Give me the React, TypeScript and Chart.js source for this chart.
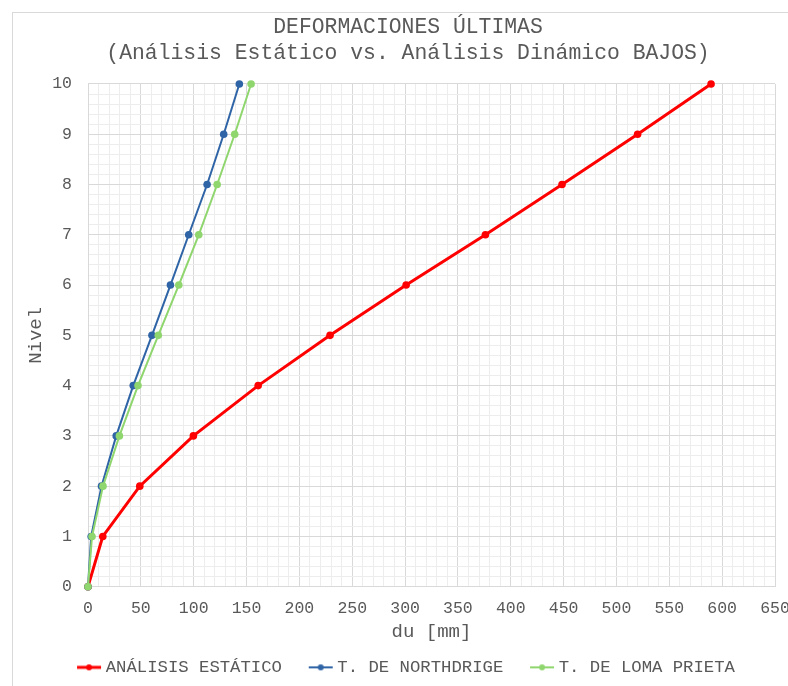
import React, { useEffect, useRef } from "react";
import { Chart, registerables } from "chart.js";

Chart.register(...registerables);

const niveles = [0, 1, 2, 3, 4, 5, 6, 7, 8, 9, 10];
const estatico = [0, 14, 49, 99.7, 161, 229, 301, 376, 448.5, 520, 589.5];
const northridge = [0, 3, 12.8, 26.7, 42.8, 60.5, 78, 95.3, 112.7, 128.4, 143.2];
const lomaPrieta = [0, 3.8, 14.2, 29.7, 47.3, 66.5, 85.9, 104.8, 122.2, 138.8, 154.3];

const seriesNames = ["ANÁLISIS ESTÁTICO", "T. DE NORTHDRIGE", "T. DE LOMA PRIETA"];
const seriesColors = ["#FF0000", "#2F64A6", "#8FD66E"];
const titleLines = ["DEFORMACIONES ÚLTIMAS", "(Análisis Estático vs. Análisis Dinámico BAJOS)"];
const xTitle = "du [mm]";
const yTitle = "Nivel";

const MONO = "'Courier New', Courier, 'Nimbus Mono PS', FreeMono, 'Liberation Mono', monospace";
const GRAY = "#595959";

function legendMarker(color: string, lw: number) {
  const c = document.createElement("canvas");
  c.width = 26;
  c.height = 10;
  const g = c.getContext("2d")!;
  g.strokeStyle = color;
  g.lineWidth = lw;
  g.beginPath();
  g.moveTo(1, 5);
  g.lineTo(25, 5);
  g.stroke();
  g.fillStyle = color;
  g.beginPath();
  g.arc(13, 5, 3, 0, Math.PI * 2);
  g.fill();
  return c;
}

export default function App() {
  const ref = useRef<HTMLCanvasElement>(null);
  useEffect(() => {
    if (!ref.current) return;
    const toPts = (arr: number[]) => arr.map((v, i) => ({ x: v, y: niveles[i] }));
    const data = [estatico, northridge, lomaPrieta];
    const widths = [3, 2, 2];
    const markers = seriesColors.map((c, i) => legendMarker(c, widths[i]));
    const isMajor = (v: number, step: number) => Math.abs(v / step - Math.round(v / step)) < 1e-6;
    const chart = new Chart(ref.current, {
      type: "scatter",
      data: {
        datasets: data.map((d, i) => ({
          label: seriesNames[i],
          data: toPts(d),
          showLine: true,
          clip: false,
          borderColor: seriesColors[i],
          backgroundColor: seriesColors[i],
          borderWidth: widths[i],
          pointRadius: 3.8,
          pointHoverRadius: 3.8,
          pointBorderWidth: 0,
          order: i === 0 ? 3 : i === 1 ? 2 : 1,
        })),
      },
      options: {
        animation: false,
        responsive: false,
        layout: { padding: { left: 28, right: 28, top: 0, bottom: 27 } },
        plugins: {
          title: {
            display: true,
            text: titleLines,
            color: GRAY,
            font: { family: MONO, size: 21.4, weight: "normal", lineHeight: 1.2 },
            padding: { top: 2, bottom: 17.6 },
          },
          legend: {
            position: "bottom",
            labels: {
              color: GRAY,
              font: { family: MONO, size: 17.3 },
              usePointStyle: true,
              pointStyleWidth: 16,
              padding: 10,
              generateLabels: (ch: any) =>
                ch.data.datasets.map((ds: any, i: number) => ({
                  text: i < 2 ? ds.label + "  " : ds.label,
                  fillStyle: seriesColors[i],
                  strokeStyle: seriesColors[i],
                  lineWidth: 0,
                  pointStyle: markers[i],
                  datasetIndex: i,
                  hidden: false,
                  fontColor: GRAY,
                })),
            },
          },
          tooltip: { enabled: false },
        },
        scales: {
          x: {
            type: "linear",
            min: 0,
            max: 650,
            ticks: {
              stepSize: 10,
              autoSkip: false,
              maxRotation: 0,
              color: GRAY,
              padding: 12,
              font: { family: MONO, size: 16.5 },
              callback: (v: any) => (isMajor(Number(v), 50) ? String(Math.round(Number(v))) : ""),
            },
            grid: {
              drawTicks: false,
              color: (c: any) => (isMajor(c.tick.value, 50) ? "#D9D9D9" : "#EDEDED"),
            },
            border: { display: true, color: "#D9D9D9" },
            title: {
              display: true,
              text: xTitle,
              color: GRAY,
              font: { family: MONO, size: 19, lineHeight: 1.2 },
              padding: { top: 0, bottom: 5 },
            },
            afterFit: (s: any) => {
              s.height = 62;
              s.paddingLeft = 0;
              s.paddingRight = 0;
            },
          },
          y: {
            type: "linear",
            min: 0,
            max: 10,
            ticks: {
              stepSize: 0.2,
              autoSkip: false,
              color: GRAY,
              padding: 16,
              font: { family: MONO, size: 16.5 },
              callback: (v: any) => (isMajor(Number(v), 1) ? String(Math.round(Number(v))) : ""),
            },
            grid: {
              drawTicks: false,
              color: (c: any) => (isMajor(c.tick.value, 1) ? "#D9D9D9" : "#EDEDED"),
            },
            border: { display: true, color: "#D9D9D9" },
            title: {
              display: true,
              text: yTitle,
              color: GRAY,
              font: { family: MONO, size: 19, lineHeight: 1.2 },
              padding: { top: -16.4, bottom: 0 },
            },
            afterFit: (s: any) => {
              s.width = 47;
              s.paddingTop = 0;
              s.paddingBottom = 0;
            },
          },
        },
      },
    });
    return () => chart.destroy();
  }, []);
  return (
    <div
      style={{
        position: "fixed",
        left: 12,
        top: 12,
        width: 800,
        height: 702,
        borderLeft: "1px solid #D9D9D9",
        borderTop: "1px solid #D9D9D9",
        background: "#fff",
      }}
    >
      <canvas ref={ref} width={790} height={700} style={{ display: "block" }} />
    </div>
  );
}
